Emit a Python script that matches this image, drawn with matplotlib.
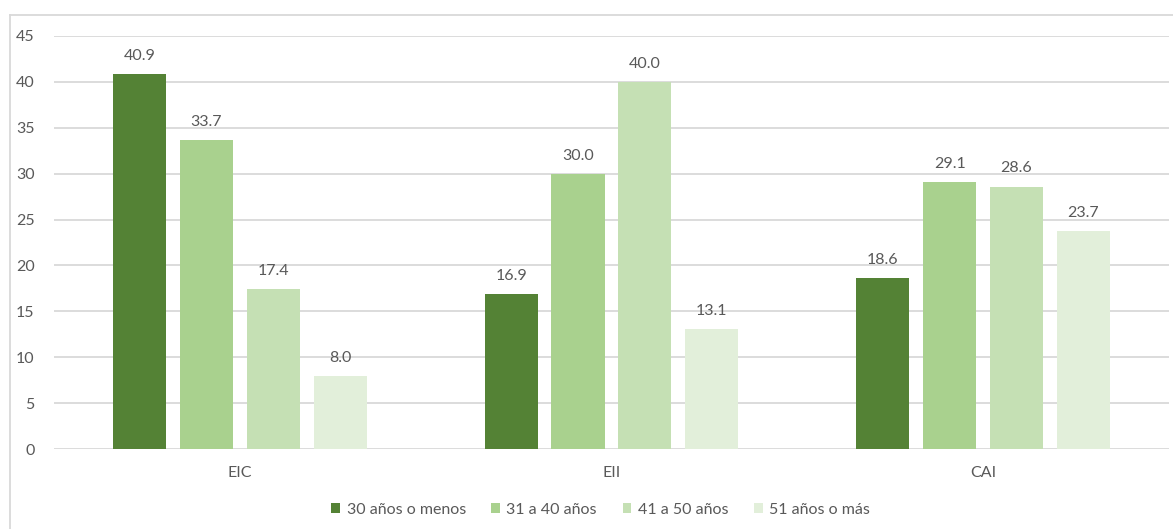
import matplotlib.pyplot as plt
import numpy as np
from matplotlib.lines import Line2D

plt.rcParams['font.family'] = ['Lato', 'DejaVu Sans']

categorias = ['EIC', 'EII', 'CAI']
grupos = ['30 años o menos', '31 a 40 años', '41 a 50 años', '51 años o más']
valores = [
    [40.9, 16.9, 18.6],
    [33.7, 30.0, 29.1],
    [17.4, 40.0, 28.6],
    [8.0, 13.1, 23.7],
]
colores = ['#548235', '#A9D18E', '#C5E0B4', '#E2EFDA']
gris = '#595959'

fig = plt.figure(figsize=(11.73, 5.29), dpi=100)
ax = fig.add_axes([0.046, 0.1512, 0.9505, 0.7808])

x = np.arange(len(categorias))
ancho = 0.143
paso = 0.18
for i, (g, v, c) in enumerate(zip(grupos, valores, colores)):
    pos = x + (i - 1.5) * paso
    barras = ax.bar(pos, v, ancho, color=c, label=g, zorder=2)
    for b, val in zip(barras, v):
        ax.text(b.get_x() + b.get_width() / 2, val + 1.2, f'{val:.1f}',
                ha='center', va='bottom', fontsize=11.5, color=gris)

ax.set_xlim(-0.5, 2.5)
ax.set_ylim(0, 45)
ax.set_yticks(range(0, 50, 5))
ax.set_xticks(x)
ax.set_xticklabels(categorias)
ax.tick_params(axis='both', length=0, labelsize=11.5, labelcolor=gris)
ax.tick_params(axis='y', pad=14)
ax.tick_params(axis='x', pad=12)
ax.grid(axis='y', color='#D9D9D9', linewidth=1.3, zorder=0)
for s in ax.spines.values():
    s.set_visible(False)

ax.legend(loc='center', bbox_to_anchor=(0.512, 0.0365), bbox_transform=fig.transFigure,
          ncol=4, frameon=False, fontsize=11.5, labelcolor=gris,
          handlelength=0.55, handleheight=0.55, handletextpad=0.4, columnspacing=1.6)

# marco del gráfico
fig.add_artist(Line2D([10 / 1173, 1], [1 - 15 / 529, 1 - 15 / 529], color='#D9D9D9', lw=1.3))
fig.add_artist(Line2D([10 / 1173, 10 / 1173], [0, 1 - 15 / 529], color='#D9D9D9', lw=1.3))

fig.savefig('out.png', dpi=100)
